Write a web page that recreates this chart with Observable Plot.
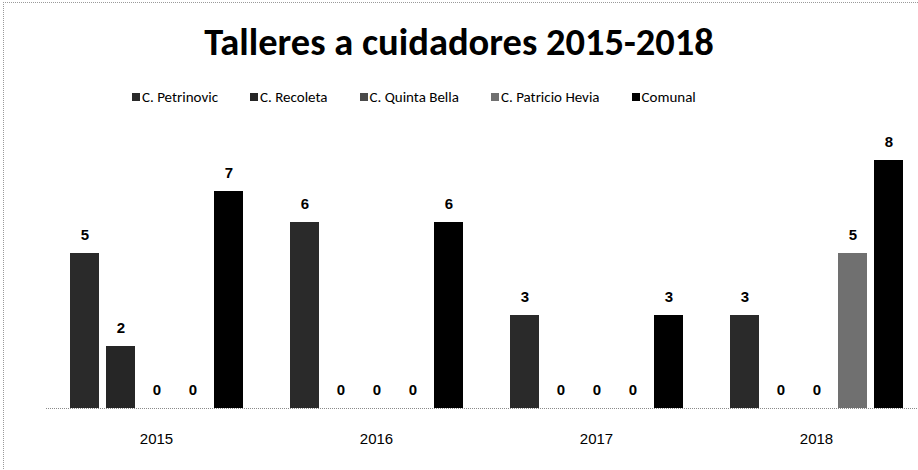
<!DOCTYPE html>
<html>
<head>
<meta charset="utf-8">
<script src="https://cdn.jsdelivr.net/npm/d3@7"></script>
<script src="https://cdn.jsdelivr.net/npm/@observablehq/plot@0.6"></script>
<style>
  html, body { margin: 0; padding: 0; background: #fff; overflow: hidden; }
  #frame { position: relative; width: 918px; height: 470px; overflow: hidden; background: #fff; }
  #border { position: absolute; left: 3px; top: 2px; width: 940px; height: 500px; border-left: 1px dotted #9a9a9a; border-top: 1px dotted #9a9a9a; }
  #title { position: absolute; left: 0; top: 21px; width: 918px; text-align: center;
    font-family: "Liberation Sans Narrow", "Carlito", "Open Sans", sans-serif; font-weight: bold; font-size: 38.5px; color: #000; line-height: 42px; }
  #legend { position: absolute; left: 132px; top: 88px; height: 18px; display: flex; align-items: center;
    font-family: "Liberation Sans Narrow", "Carlito", "Open Sans", sans-serif; font-size: 15px; color: #000; }
  .item { display: flex; align-items: center; margin-right: 32px; }
  .sw { width: 8px; height: 8px; margin-right: 2px; }
  #chart { position: absolute; left: 0; top: 120px; width: 926px; }
  #chart svg { max-width: none !important; }
</style>
</head>
<body>
<div id="frame">
  <div id="border"></div>
  <div id="title">Talleres a cuidadores 2015-2018</div>
  <div id="legend"></div>
  <div id="chart"></div>
</div>
<script>
const years = ["2015", "2016", "2017", "2018"];
const series = ["C. Petrinovic", "C. Recoleta", "C. Quinta Bella", "C. Patricio Hevia", "Comunal"];
const petrinovic = [5, 6, 3, 3];
const recoleta = [2, 0, 0, 0];
const quintaBella = [0, 0, 0, 0];
const patricioHevia = [0, 0, 0, 5];
const comunal = [7, 6, 3, 8];
const colors = ["#2a2a2a", "#262626", "#4a4a4a", "#707070", "#000000"];

const values = [petrinovic, recoleta, quintaBella, patricioHevia, comunal];
const data = [];
years.forEach((yr, i) => series.forEach((s, j) => data.push({year: yr, series: s, value: values[j][i]})));

// legend
const legend = document.getElementById("legend");
series.forEach((s, j) => {
  const it = document.createElement("div");
  it.className = "item";
  const sw = document.createElement("div");
  sw.className = "sw";
  sw.style.background = colors[j];
  const t = document.createElement("span");
  t.textContent = s;
  it.appendChild(sw); it.appendChild(t);
  legend.appendChild(it);
});

const chart = Plot.plot({
  width: 926,
  height: 350,
  marginLeft: 46,
  marginRight: 0,
  marginTop: 9,
  marginBottom: 62,
  style: {background: "transparent", fontFamily: "'Liberation Sans', 'Open Sans', sans-serif", maxWidth: "none"},
  fx: {domain: years, padding: 0, axis: "bottom", tickSize: 0, tickPadding: 25, label: null, fontSize: 15},
  x: {domain: series, axis: null, paddingInner: 0.205, paddingOuter: 0.61},
  y: {domain: [0, 9], axis: null},
  color: {domain: series, range: colors},
  marks: [
    Plot.barY(data, {fx: "year", x: "series", y: "value", fill: "series"}),
    Plot.ruleY([0], {stroke: "#8a8a8a", strokeDasharray: "1,1"}),
    Plot.text(data, {fx: "year", x: "series", y: "value", text: d => String(d.value), dy: -18,
      fontWeight: "bold", fontSize: 15, fill: "#000"})
  ]
});
document.getElementById("chart").appendChild(chart);
chart.querySelectorAll("g[aria-label='fx-axis tick label'] text, g[aria-label='fx-axis'] text").forEach(t => {
  t.style.fontSize = "15px";
});
</script>
</body>
</html>
